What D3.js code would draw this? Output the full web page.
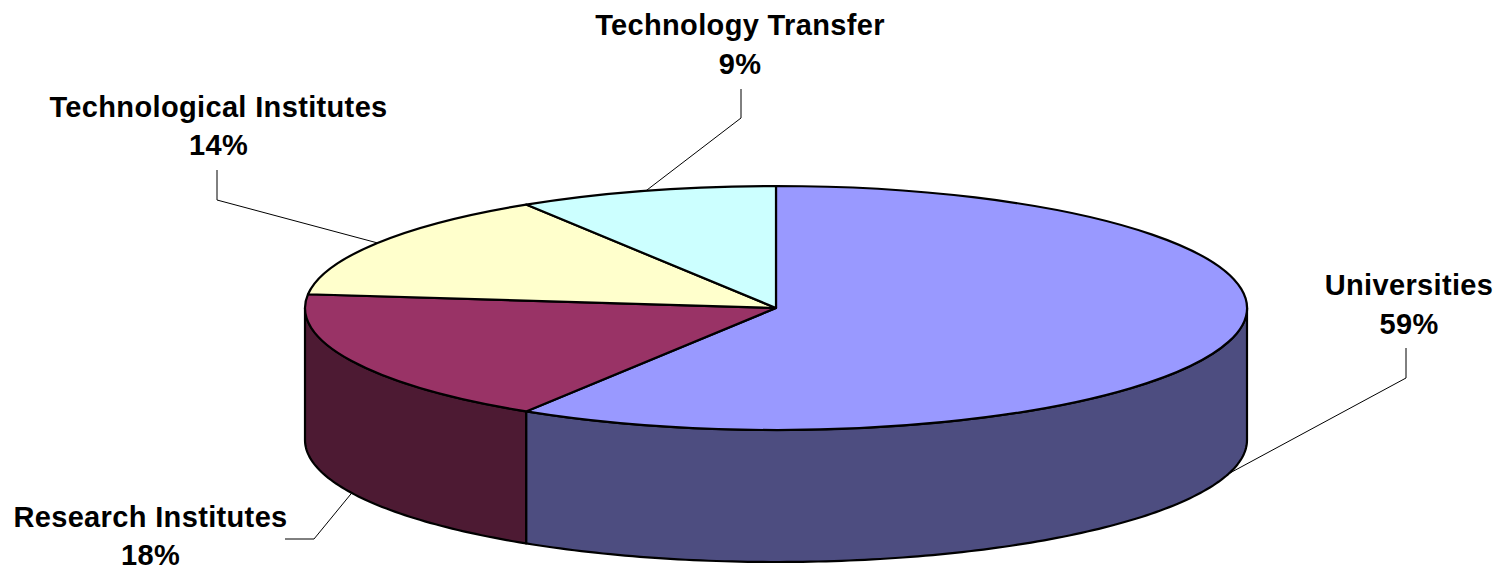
<!DOCTYPE html>
<html>
<head>
<meta charset="utf-8">
<script src="https://cdn.jsdelivr.net/npm/d3@7"></script>
<style>
  html, body { margin: 0; padding: 0; background: #fff; overflow: hidden; }
  text { font-family: "Liberation Sans", Arial, sans-serif; font-weight: bold; fill: #000; }
</style>
</head>
<body>
<div id="container"></div>
<script>
const categories = ["Universities", "Research Institutes", "Technological Institutes", "Technology Transfer"];
const shares = [58.9, 17.9, 14.3, 8.9];
const topColors = ["#9999ff", "#993366", "#ffffcc", "#ccffff"];
const wallColors = ["#4d4d80", "#4d1a33", "#808066", "#668080"];

// Layout der Beschriftungen: Textmitte, Grundlinien, Knick der Hilfslinie
const labelX = [1409, 150.5, 218.5, 740];
const labelY = [295, 526.5, 116.5, 35];
const leaderStart = [[1406, 348], [285, 539], [217, 170], [741, 89]];
const leaderKnee = [[1406, 378], [314, 539], [217, 200], [741, 118]];

const width = 1505;
const height = 570;
const cx = 776;
const cy = 308;
const rx = 471;
const ry = 122;
const depth = 132;

const svg = d3.select("#container")
  .append("svg")
  .attr("width", width)
  .attr("height", height);

const slices = d3.pie().sort(null)(shares);

// Winkel im Uhrzeigersinn von oben, wie bei d3.arc
const px = a => cx + rx * Math.sin(a);
const py = a => cy - ry * Math.cos(a);

const rimLine = d3.line().x(d => d[0]).y(d => d[1]);

function rimPoints(a0, a1, dy) {
  const n = Math.max(2, Math.ceil(Math.abs(a1 - a0) * 60));
  return d3.range(n + 1).map(i => {
    const a = a0 + (a1 - a0) * i / n;
    return [px(a), py(a) + dy];
  });
}

// Seitenwand: nur der vordere Teil (90° bis 270°) ist sichtbar
const wall = svg.append("g")
  .attr("stroke", "#000")
  .attr("stroke-width", 2.2)
  .attr("stroke-linejoin", "round");

slices.forEach((d, i) => {
  const a0 = Math.max(d.startAngle, Math.PI / 2);
  const a1 = Math.min(d.endAngle, Math.PI * 1.5);
  if (a1 <= a0) return;
  const pts = rimPoints(a0, a1, 0).concat(rimPoints(a1, a0, depth));
  wall.append("path")
    .attr("d", rimLine(pts) + "Z")
    .attr("fill", wallColors[i]);
});

// Deckel
const arc = d3.arc().innerRadius(0).outerRadius(rx);

svg.append("g")
  .attr("transform", `translate(${cx},${cy}) scale(1,${ry / rx})`)
  .selectAll("path")
  .data(slices)
  .join("path")
  .attr("d", arc)
  .attr("fill", (d, i) => topColors[i])
  .attr("stroke", "#000")
  .attr("stroke-width", 2.2)
  .attr("stroke-linejoin", "round")
  .attr("vector-effect", "non-scaling-stroke");

// Hilfslinien enden in der Mitte des Segments am Rand
const leaderEnd = slices.map(d => {
  const mid = (d.startAngle + d.endAngle) / 2;
  const front = Math.cos(mid) < 0;
  return [px(mid), py(mid) + (front ? depth : 0)];
});

svg.append("g")
  .attr("fill", "none")
  .attr("stroke", "#000")
  .attr("stroke-width", 1)
  .selectAll("path")
  .data(slices)
  .join("path")
  .attr("d", (d, i) => rimLine([leaderStart[i], leaderKnee[i], leaderEnd[i]]));

// Beschriftungen
const labels = svg.append("g")
  .attr("font-size", 29)
  .attr("letter-spacing", 0.35)
  .attr("text-anchor", "middle")
  .selectAll("text")
  .data(slices)
  .join("text")
  .attr("x", (d, i) => labelX[i])
  .attr("y", (d, i) => labelY[i]);

labels.append("tspan")
  .text((d, i) => categories[i]);

labels.append("tspan")
  .attr("x", (d, i) => labelX[i])
  .attr("dy", 38.5)
  .text(d => `${Math.round(d.value)}%`);
</script>
</body>
</html>
